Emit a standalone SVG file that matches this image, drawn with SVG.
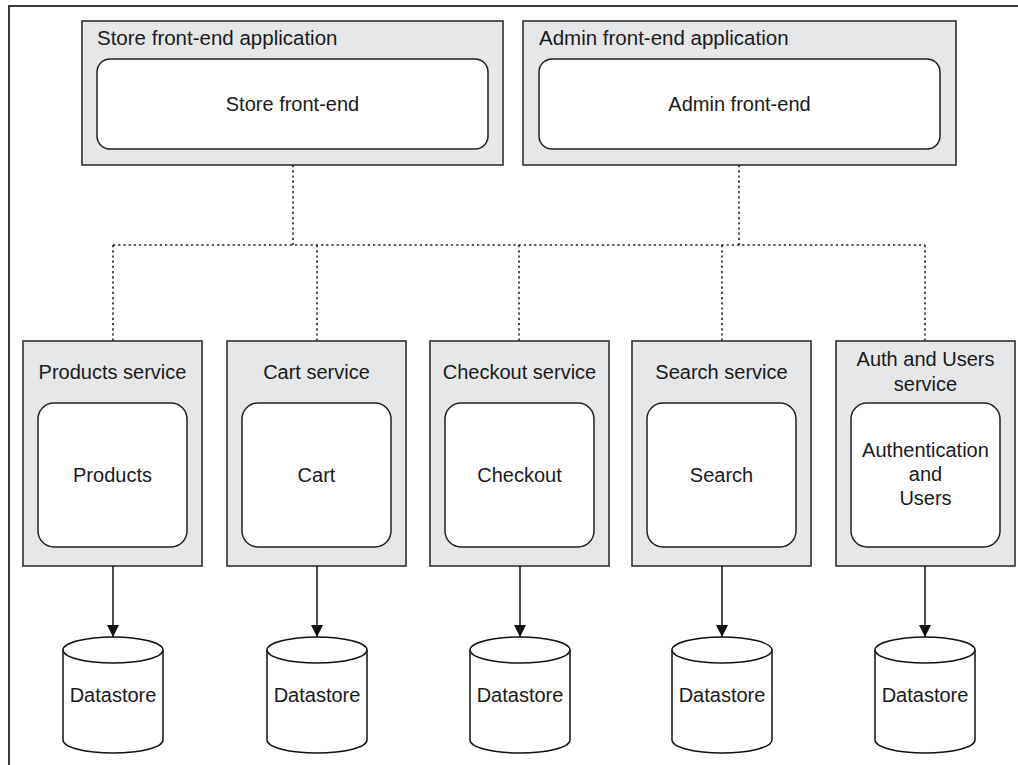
<svg xmlns="http://www.w3.org/2000/svg" width="1018" height="765" viewBox="0 0 1018 765">
<style>
  text { font-family: "Liberation Sans", Arial, sans-serif; fill: #1a1a1a; }
  .t { font-size: 20.5px; }
  .s { font-size: 20px; }
  .c { text-anchor: middle; }
  .outer { fill: #e6e7e8; stroke: #333; stroke-width: 1.6; }
  .inner { fill: #fff; stroke: #222; stroke-width: 1.5; }
  .dot { fill: none; stroke: #222; stroke-width: 1.6; stroke-dasharray: 2.2 3; }
  .arr { fill: none; stroke: #111; stroke-width: 1.5; }
  .cyl { fill: #fff; stroke: #111; stroke-width: 1.5; }
</style>
<defs>
  <marker id="ah" markerWidth="12" markerHeight="12" viewBox="0 0 12 12" refX="12" refY="6" orient="auto" markerUnits="userSpaceOnUse">
    <path d="M0,0 L12,6 L0,12 Z" fill="#111"/>
  </marker>
</defs>
<rect x="9" y="6" width="1030" height="780" fill="none" stroke="#3a3a3a" stroke-width="2"/>

<g id="store-app">
  <rect class="outer" x="82" y="21" width="421" height="144"/>
  <text class="t" x="97" y="45">Store front-end application</text>
  <rect class="inner" x="97" y="59" width="391" height="90" rx="13"/>
  <text class="s c" x="292.5" y="111">Store front-end</text>
</g>
<g id="admin-app">
  <rect class="outer" x="523" y="21" width="433" height="144"/>
  <text class="t" x="539" y="45">Admin front-end application</text>
  <rect class="inner" x="539" y="59" width="401" height="90" rx="13"/>
  <text class="s c" x="739.5" y="111">Admin front-end</text>
</g>

<g id="products-service">
  <rect class="outer" x="23" y="341" width="179" height="225"/>
  <text class="s c" x="112.5" y="379">Products service</text>
  <rect class="inner" x="38" y="403" width="149" height="144" rx="16"/>
  <text class="s c" x="112.5" y="482">Products</text>
</g>
<g id="cart-service">
  <rect class="outer" x="227" y="341" width="179" height="225"/>
  <text class="s c" x="316.5" y="379">Cart service</text>
  <rect class="inner" x="242" y="403" width="149" height="144" rx="16"/>
  <text class="s c" x="316.5" y="482">Cart</text>
</g>
<g id="checkout-service">
  <rect class="outer" x="430" y="341" width="179" height="225"/>
  <text class="s c" x="519.5" y="379">Checkout service</text>
  <rect class="inner" x="445" y="403" width="149" height="144" rx="16"/>
  <text class="s c" x="519.5" y="482">Checkout</text>
</g>
<g id="search-service">
  <rect class="outer" x="632" y="341" width="179" height="225"/>
  <text class="s c" x="721.5" y="379">Search service</text>
  <rect class="inner" x="647" y="403" width="149" height="144" rx="16"/>
  <text class="s c" x="721.5" y="482">Search</text>
</g>
<g id="auth-service">
  <rect class="outer" x="836" y="341" width="179" height="225"/>
  <text class="s c" x="925.5" y="366">Auth and Users</text>
  <text class="s c" x="925.5" y="391">service</text>
  <rect class="inner" x="851" y="403" width="149" height="144" rx="16"/>
  <text class="s c" x="925.5" y="457">Authentication</text>
  <text class="s c" x="925.5" y="481">and</text>
  <text class="s c" x="925.5" y="505">Users</text>
</g>

<g id="datastore-products">
  <path class="cyl" d="M63,650 L63,740 A50,13 0 0 0 163,740 L163,650"/>
  <ellipse class="cyl" cx="113" cy="650" rx="50" ry="13"/>
  <text class="s c" x="113" y="702">Datastore</text>
</g>
<g id="datastore-cart">
  <path class="cyl" d="M267,650 L267,740 A50,13 0 0 0 367,740 L367,650"/>
  <ellipse class="cyl" cx="317" cy="650" rx="50" ry="13"/>
  <text class="s c" x="317" y="702">Datastore</text>
</g>
<g id="datastore-checkout">
  <path class="cyl" d="M470,650 L470,740 A50,13 0 0 0 570,740 L570,650"/>
  <ellipse class="cyl" cx="520" cy="650" rx="50" ry="13"/>
  <text class="s c" x="520" y="702">Datastore</text>
</g>
<g id="datastore-search">
  <path class="cyl" d="M672,650 L672,740 A50,13 0 0 0 772,740 L772,650"/>
  <ellipse class="cyl" cx="722" cy="650" rx="50" ry="13"/>
  <text class="s c" x="722" y="702">Datastore</text>
</g>
<g id="datastore-auth">
  <path class="cyl" d="M875,650 L875,740 A50,13 0 0 0 975,740 L975,650"/>
  <ellipse class="cyl" cx="925" cy="650" rx="50" ry="13"/>
  <text class="s c" x="925" y="702">Datastore</text>
</g>

<g id="connectors">
  <path class="dot" d="M293,165 V245"/>
  <path class="dot" d="M739,165 V245"/>
  <path class="dot" d="M113,245 H925"/>
  <path class="dot" d="M113,245 V341"/>
  <path class="dot" d="M317,245 V341"/>
  <path class="dot" d="M519,245 V341"/>
  <path class="dot" d="M722,245 V341"/>
  <path class="dot" d="M925,245 V341"/>
  <path class="arr" d="M113,566 V637" marker-end="url(#ah)"/>
  <path class="arr" d="M317,566 V637" marker-end="url(#ah)"/>
  <path class="arr" d="M520,566 V637" marker-end="url(#ah)"/>
  <path class="arr" d="M722,566 V637" marker-end="url(#ah)"/>
  <path class="arr" d="M925,566 V637" marker-end="url(#ah)"/>
</g>
</svg>
